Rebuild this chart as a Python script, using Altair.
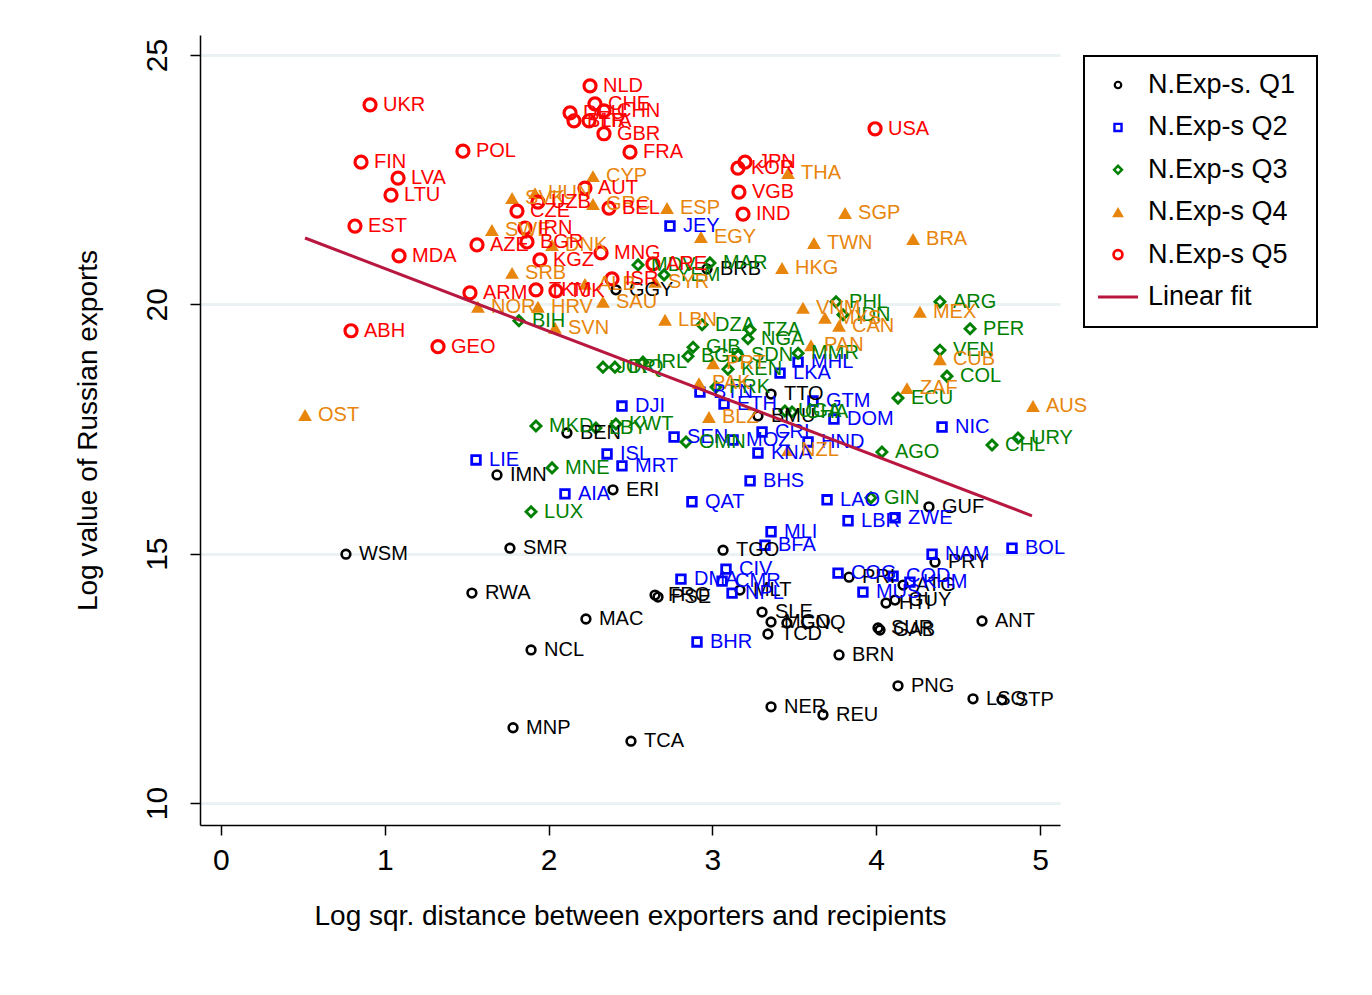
import altair as alt
import pandas as pd

# ---------------- data ----------------
groups = ["N.Exp-s. Q1", "N.Exp-s Q2", "N.Exp-s Q3", "N.Exp-s Q4", "N.Exp-s Q5", "Linear fit"]

q1_codes = ["TTO", "BMU", "BEN", "IMN", "ERI", "GGY", "BRB", "SMR", "WSM", "RWA", "MAC", "NCL",
            "MNP", "TCA", "FRO", "PSE", "TGO", "MLT", "SLE", "MCO", "GNQ", "TCD", "BRN", "SUR",
            "GAB", "HTI", "GUY", "PRY", "ATG", "PRI", "ANT", "PNG", "LSO", "STP", "NER", "REU", "GUF"]
q1_x = [3.358, 3.278, 2.112, 1.685, 2.393, 2.411, 2.967, 1.764, 0.763, 1.532, 2.228, 1.893,
        1.783, 2.503, 2.650, 2.668, 3.065, 3.168, 3.303, 3.358, 3.455, 3.339, 3.773, 4.011,
        4.023, 4.060, 4.115, 4.359, 4.164, 3.834, 4.646, 4.133, 4.591, 4.768, 3.358, 3.675, 4.322]
q1_y = [18.20, 17.76, 17.42, 16.58, 16.28, 20.29, 20.71, 15.11, 14.99, 14.21, 13.69, 13.07,
        11.51, 11.24, 14.17, 14.13, 15.07, 14.27, 13.83, 13.63, 13.61, 13.39, 12.97, 13.51,
        13.47, 14.01, 14.07, 14.83, 14.37, 14.53, 13.65, 12.35, 12.09, 12.07, 11.93, 11.77, 15.94]

q2_codes = ["JEY", "DJI", "LIE", "ISL", "MRT", "AIA", "SEN", "QAT", "BHS", "LAO", "LBR", "ZWE",
            "MLI", "BFA", "NAM", "BOL", "COG", "COD", "KHM", "MUS", "CIV", "CMR", "DMA", "NPL",
            "BHR", "BTN", "ETH", "LKA", "MHL", "GTM", "DOM", "NIC", "CRI", "HND", "KNA", "MOZ"]
q2_x = [2.741, 2.448, 1.557, 2.357, 2.448, 2.100, 2.766, 2.875, 3.230, 3.700, 3.828, 4.115,
        3.358, 3.321, 4.341, 4.829, 3.767, 4.103, 4.206, 3.919, 3.083, 3.059, 2.808, 3.120,
        2.906, 2.924, 3.071, 3.413, 3.523, 3.614, 3.742, 4.402, 3.303, 3.584, 3.278, 3.126]
q2_y = [21.57, 17.96, 16.88, 17.00, 16.76, 16.20, 17.34, 16.04, 16.46, 16.08, 15.66, 15.72,
        15.44, 15.17, 14.99, 15.11, 14.61, 14.55, 14.43, 14.23, 14.69, 14.45, 14.49, 14.21,
        13.23, 18.24, 18.00, 18.62, 18.84, 18.06, 17.70, 17.54, 17.44, 17.24, 17.02, 17.28]

q3_codes = ["BIH", "MKD", "MNE", "LUX", "LBY", "KWT", "JOR", "IRQ", "IRL", "GIB", "BGD", "DZA",
            "TZA", "NGA", "SDN", "MMR", "KEN", "PRK", "UGA", "GHA", "OMN", "AGO", "GIN", "ECU",
            "COL", "VEN", "PER", "ARG", "PHL", "IDN", "CHL", "URY", "MDV", "YEM", "MAR"]
q3_x = [1.819, 1.923, 2.021, 1.893, 2.289, 2.411, 2.332, 2.405, 2.576, 2.882, 2.851, 2.937,
        3.230, 3.217, 3.156, 3.523, 3.095, 3.022, 3.443, 3.486, 2.839, 4.035, 3.968, 4.133,
        4.432, 4.389, 4.573, 4.389, 3.755, 3.797, 4.707, 4.866, 2.546, 2.705, 2.985]
q3_y = [19.67, 17.56, 16.72, 15.84, 17.52, 17.60, 18.74, 18.74, 18.84, 19.14, 18.96, 19.59,
        19.49, 19.31, 18.98, 19.02, 18.70, 18.34, 17.86, 17.84, 17.24, 17.04, 16.12, 18.12,
        18.56, 19.08, 19.51, 20.05, 20.05, 19.79, 17.18, 17.32, 20.79, 20.59, 20.83]

q4_codes = ["OST", "CYP", "SVK", "HUN", "GRC", "ESP", "EGY", "THA", "SGP", "TWN", "BRA", "HKG",
            "SWE", "DNK", "SRB", "NOR", "HRV", "SVN", "ALB", "SAU", "SYR", "LBN", "PRT", "PAK",
            "BLZ", "VNM", "MYS", "CAN", "PAN", "MEX", "CUB", "ZAF", "AUS", "NZL"]
q4_x = [0.513, 2.271, 1.777, 1.917, 2.271, 2.723, 2.930, 3.462, 3.810, 3.620, 4.225, 3.425,
        1.654, 2.021, 1.777, 1.569, 1.935, 2.039, 2.222, 2.332, 2.650, 2.711, 3.004, 2.918,
        2.979, 3.553, 3.687, 3.773, 3.602, 4.267, 4.389, 4.188, 4.957, 3.462]
q4_y = [17.78, 22.57, 22.13, 22.23, 22.01, 21.93, 21.35, 22.63, 21.83, 21.23, 21.31, 20.73,
        21.49, 21.19, 20.63, 19.95, 19.95, 19.53, 20.41, 20.05, 20.45, 19.69, 18.82, 18.42,
        17.74, 19.93, 19.73, 19.57, 19.18, 19.85, 18.90, 18.32, 17.96, 17.08]

q5_codes = ["UKR", "FIN", "LVA", "LTU", "EST", "MDA", "POL", "ABH", "GEO", "ARM", "AZE", "NLD",
            "CHE", "CHN", "DEU", "BLR", "ITA", "GBR", "FRA", "AUT", "UZB", "CZE", "BEL", "IRN",
            "BGR", "KGZ", "MNG", "ISR", "ARE", "TKM", "TJK", "JPN", "KOR", "VGB", "IND", "USA"]
q5_x = [0.910, 0.855, 1.081, 1.038, 0.818, 1.087, 1.477, 0.794, 1.325, 1.520, 1.563, 2.253,
        2.283, 2.338, 2.131, 2.155, 2.247, 2.338, 2.497, 2.222, 1.935, 1.807, 2.369, 1.856,
        1.868, 1.947, 2.320, 2.387, 2.637, 1.923, 2.045, 3.199, 3.156, 3.162, 3.187, 3.993]
q5_y = [24.00, 22.85, 22.53, 22.19, 21.57, 20.97, 23.07, 19.47, 19.15, 20.23, 21.19, 24.38,
        24.02, 23.88, 23.84, 23.68, 23.68, 23.42, 23.05, 22.33, 22.05, 21.87, 21.93, 21.53,
        21.25, 20.89, 21.03, 20.51, 20.81, 20.29, 20.27, 22.85, 22.73, 22.25, 21.81, 23.52]

fit_x = [0.513, 4.951]
fit_y = [21.33, 15.76]

x_ticks = [0, 1, 2, 3, 4, 5]
y_ticks = [10, 15, 20, 25]

# ---------------- styles ----------------
colors = ["#000000", "#0000FF", "#008000", "#E8850C", "#FF0000", "#B8173F"]
shapes = ["circle", "square", "diamond", "triangle-up", "circle"]
filled = [False, False, False, True, False]
sizes = [76, 74, 100, 190, 145]
legend_sizes = [42, 50, 62, 140, 78]
stroke_widths = [2.6, 2.8, 2.9, 0.5, 3.2]

series = [(q1_codes, q1_x, q1_y), (q2_codes, q2_x, q2_y), (q3_codes, q3_x, q3_y),
          (q4_codes, q4_x, q4_y), (q5_codes, q5_x, q5_y)]
rows = []
for g, (codes, xs, ys) in zip(groups[:5], series):
    for c, xv, yv in zip(codes, xs, ys):
        rows.append({"code": c, "dist": xv, "val": yv, "group": g})
df = pd.DataFrame(rows)
fit_df = pd.DataFrame({"dist": fit_x, "val": fit_y})
legend_df = pd.DataFrame({"group": groups})

FONT = "Liberation Sans"

xscale = alt.Scale(domain=[-0.128, 5.122], nice=False, zero=False)
yscale = alt.Scale(domain=[9.56, 25.40], nice=False, zero=False)
cscale = alt.Scale(domain=groups, range=colors)

x_enc = alt.X("dist:Q", scale=xscale,
              axis=alt.Axis(values=x_ticks, title="Log sqr. distance between exporters and recipients",
                            grid=False, labelFontSize=30, labelPadding=10, titlePadding=27,
                            titleFontSize=28, format="d"))
y_enc = alt.Y("val:Q", scale=yscale,
              axis=alt.Axis(values=y_ticks, title="Log value of Russian exports",
                            grid=True, gridColor="#EAF2F3", gridWidth=3,
                            labelFontSize=30, labelAngle=270, labelAlign="center",
                            labelBaseline="bottom", labelPadding=18, titlePadding=40,
                            titleFontSize=28, format="d"))

# ---------------- main plot ----------------
main_layers = []
for i, g in enumerate(groups[:5]):
    enc_x = x_enc if i == 0 else alt.X("dist:Q", scale=xscale)
    enc_y = y_enc if i == 0 else alt.Y("val:Q", scale=yscale)
    main_layers.append(
        alt.Chart(df).transform_filter(alt.datum.group == g).mark_point(
            shape=shapes[i], size=sizes[i], strokeWidth=stroke_widths[i],
            color=colors[i], filled=filled[i], opacity=1,
        ).encode(x=enc_x, y=enc_y)
    )

labels = alt.Chart(df).mark_text(align="left", baseline="middle", dx=13, fontSize=20, font=FONT).encode(
    x=alt.X("dist:Q", scale=xscale), y=alt.Y("val:Q", scale=yscale), text="code:N",
    color=alt.Color("group:N", scale=cscale, legend=None),
)
fit = alt.Chart(fit_df).mark_line(color=colors[5], strokeWidth=3).encode(
    x=alt.X("dist:Q", scale=xscale), y=alt.Y("val:Q", scale=yscale))

main = alt.layer(*main_layers, labels, fit)

# ---------------- legend (own scales) ----------------
lx = alt.Scale(domain=[-1, 1], range=[898, 938])
ly = alt.Scale(type="point", domain=groups, range=[50, 262], padding=0)

leg_layers = [
    alt.Chart(alt.Data(values=[{}])).mark_rect(fill=None, stroke="black", strokeWidth=2).encode(
        x=alt.value(884), x2=alt.value(1117), y=alt.value(21), y2=alt.value(292))
]
for i, g in enumerate(groups[:5]):
    leg_layers.append(
        alt.Chart(legend_df).transform_filter(alt.datum.group == g).mark_point(
            shape=shapes[i], size=legend_sizes[i], strokeWidth=stroke_widths[i] * 0.85 if i != 3 else 0.5,
            color=colors[i], filled=filled[i], opacity=1,
        ).encode(x=alt.XDatum(0, type="quantitative", scale=lx, axis=None),
                 y=alt.Y("group:N", scale=ly, axis=None))
    )
leg_layers.append(
    alt.Chart(legend_df).transform_filter(alt.datum.group == groups[5]).mark_rule(
        color=colors[5], strokeWidth=3).encode(
        x=alt.XDatum(-1, type="quantitative", scale=lx, axis=None),
        x2=alt.X2Datum(1),
        y=alt.Y("group:N", scale=ly, axis=None))
)
leg_layers.append(
    alt.Chart(legend_df).mark_text(align="left", baseline="middle", dx=30, fontSize=27,
                                   font=FONT, color="black").encode(
        x=alt.XDatum(0, type="quantitative", scale=lx, axis=None),
        y=alt.Y("group:N", scale=ly, axis=None),
        text="group:N")
)
legend = alt.layer(*leg_layers)

chart = alt.layer(main, legend).resolve_scale(x="independent", y="independent").properties(
    width=860, height=790,
    padding={"left": 192, "top": 27, "right": 304, "bottom": 162},
    autosize=alt.AutoSizeParams(type="none"),
).configure(font=FONT, background="white").configure_view(stroke=None).configure_axis(
    domainColor="black", domainWidth=1.5, tickColor="black", tickWidth=1.5, tickSize=10,
    labelColor="black", titleColor="black", labelFont=FONT, titleFont=FONT,
    titleFontWeight="normal",
)

chart.save("out.html", embed_options={"renderer": "svg", "actions": False})
